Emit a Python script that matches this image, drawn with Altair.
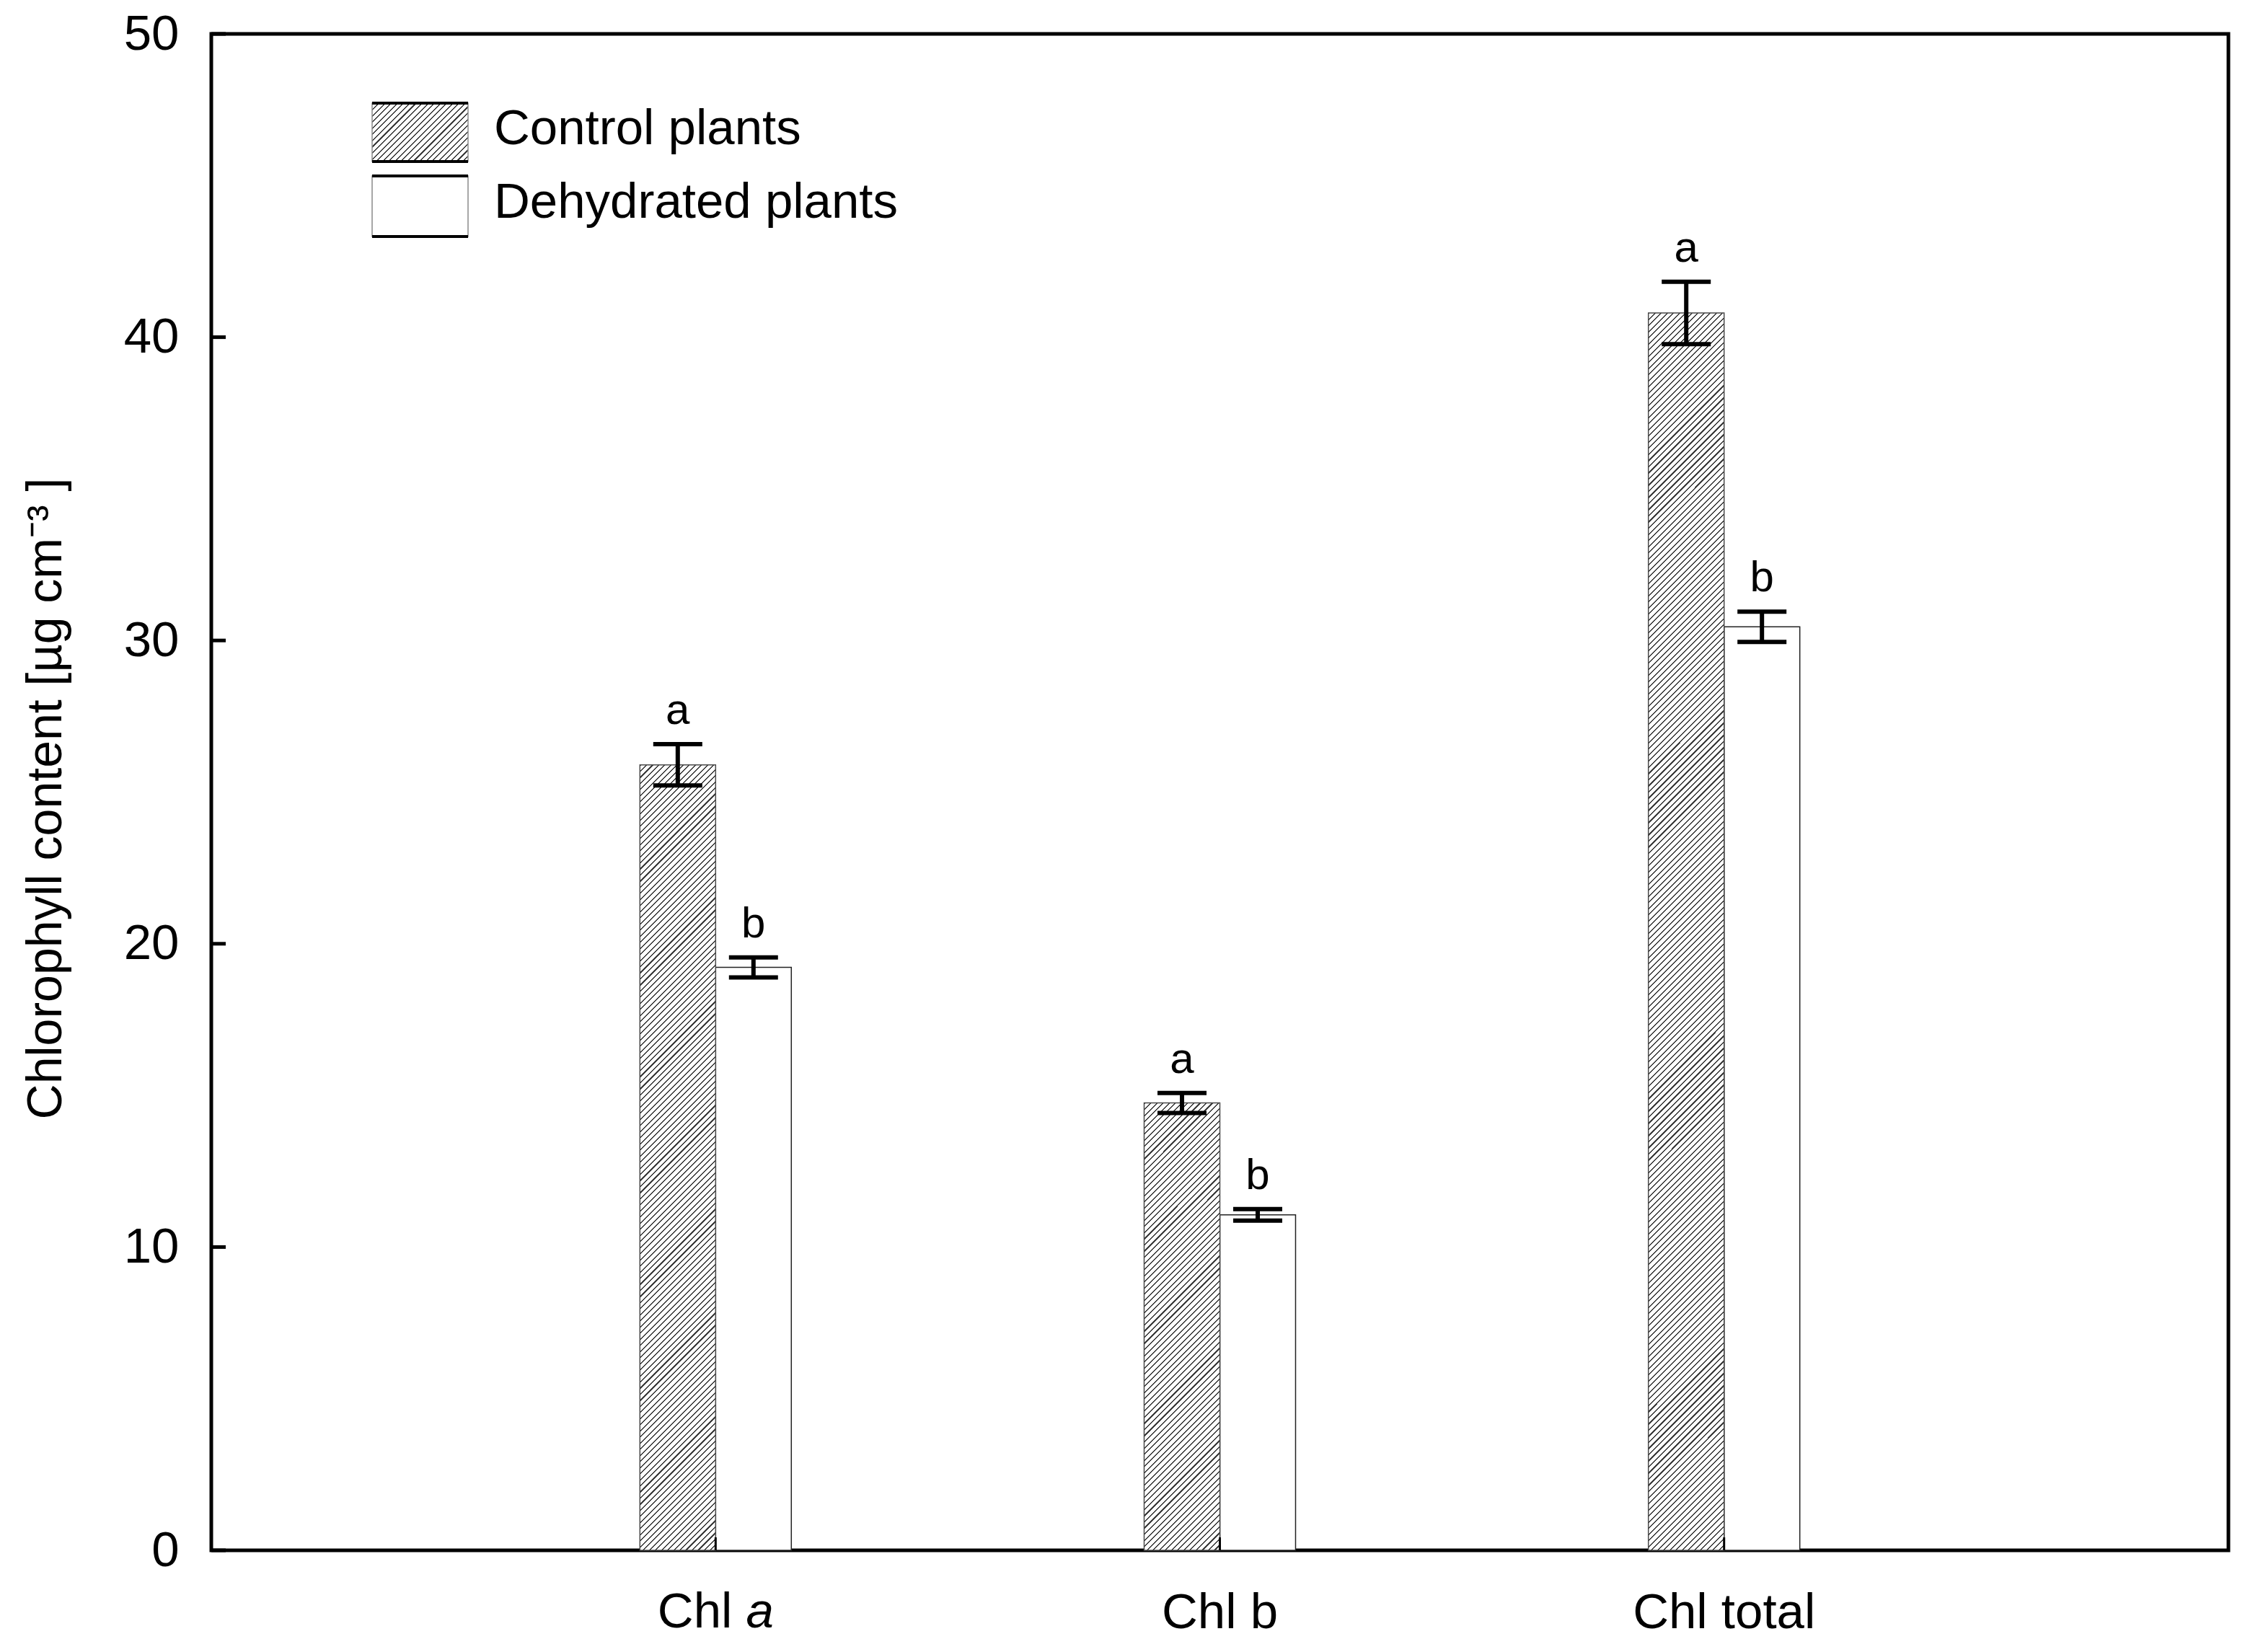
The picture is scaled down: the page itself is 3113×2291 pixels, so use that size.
import math
import altair as alt
import pandas as pd

# ---------------- data ----------------
categories = ["Chl a", "Chl b", "Chl total"]
groups = ["Control plants", "Dehydrated plants"]
control_mean = [25.9, 14.75, 40.8]
control_err = [0.68, 0.33, 1.03]
dehydrated_mean = [19.22, 11.06, 30.45]
dehydrated_err = [0.33, 0.19, 0.5]
control_letter = ["a", "a", "a"]
dehydrated_letter = ["b", "b", "b"]
y_ticks = [0, 10, 20, 30, 40, 50]

# ---------------- layout / style ----------------
W, H = 2797, 2103
Y_MAX = 50
PX_PER_UNIT = H / Y_MAX
BAR_W = 105
FONT = "Liberation Sans"
FS = 69

rows = []
for i, c in enumerate(categories):
    rows.append(dict(cat=c, grp=groups[0], mean=control_mean[i], err=control_err[i], letter=control_letter[i]))
    rows.append(dict(cat=c, grp=groups[1], mean=dehydrated_mean[i], err=dehydrated_err[i], letter=dehydrated_letter[i]))
df = pd.DataFrame(rows)
df["lo"] = df["mean"] - df["err"]
df["hi"] = df["mean"] + df["err"]


def hatch_fill(w, h, spacing=8.5, line=1.5, color="#3c3c3c"):
    s = (1 / w + 1 / h) / (1 / w ** 2 + 1 / h ** 2)
    x2, y2 = s / h, s / w
    n = max(1, round((w + h) / spacing))
    frac = line / (spacing / math.sqrt(2))
    stops = []
    for i in range(n):
        a = i / n
        b = min(1.0, (i + frac) / n)
        stops += [
            {"offset": a, "color": "white"},
            {"offset": a, "color": color},
            {"offset": b, "color": color},
            {"offset": b, "color": "white"},
        ]
    return {"gradient": "linear", "x1": 0, "y1": 0, "x2": x2, "y2": y2, "stops": stops}


x_scale = alt.Scale(domain=categories, paddingInner=0.6997, paddingOuter=0.85)
off_scale = alt.Scale(domain=groups, paddingInner=0, paddingOuter=0)
y_scale = alt.Scale(domain=[0, Y_MAX], nice=False, zero=True)

x_axis = alt.Axis(
    domain=False, ticks=False, tickSize=0, grid=False, title=None,
    labelFont=FONT, labelFontSize=FS, labelColor="black", labelPadding=52,
    labelBaseline="top", labelAngle=0, labelLimit=2000,
    labelExpr="datum.value == 'Chl a' ? '' : datum.value",
)
y_axis = alt.Axis(
    domain=False, ticks=False, tickSize=0, grid=False, values=y_ticks,
    labelFont=FONT, labelFontSize=FS, labelColor="black", labelPadding=45,
    labelFlush=False, labelOverlap=False, labelLimit=2000,
    title="Chlorophyll content [µg cm⁻³ ]",
    titleFont=FONT, titleFontSize=68, titleFontWeight="normal", titleColor="black",
    titleAngle=270, titleX=-229, titleY=1060, titleAlign="center", titleBaseline="middle",
    titleLimit=3000,
)


def X():
    return alt.X("cat:N", sort=categories, scale=x_scale, axis=x_axis, title=None)


def XO():
    return alt.XOffset("grp:N", sort=groups, scale=off_scale)


def Y(field):
    return alt.Y(field, scale=y_scale, axis=y_axis, title="Chlorophyll content [µg cm⁻³ ]")


base = alt.Chart(df)

dehyd_bars = base.transform_filter(alt.datum.grp == groups[1]).mark_bar(
    fill="white", stroke="#222222", strokeWidth=1.5
).encode(x=X(), xOffset=XO(), y=Y("mean:Q"))

control_layers = []
for i, c in enumerate(categories):
    fill = hatch_fill(BAR_W, control_mean[i] * PX_PER_UNIT)
    control_layers.append(
        base.transform_filter((alt.datum.grp == groups[0]) & (alt.datum.cat == c)).mark_bar(
            fill=fill, stroke="#4a4a4a", strokeWidth=1.5
        ).encode(x=X(), xOffset=XO(), y=Y("mean:Q"))
    )

err_rule = base.mark_rule(color="black", strokeWidth=6).encode(
    x=X(), xOffset=XO(), y=Y("lo:Q"), y2="hi:Q",
)
cap_lo = base.mark_tick(color="black", size=68, thickness=6, opacity=1).encode(
    x=X(), xOffset=XO(), y=Y("lo:Q")
)
cap_hi = base.mark_tick(color="black", size=68, thickness=6, opacity=1).encode(
    x=X(), xOffset=XO(), y=Y("hi:Q")
)
letters = base.mark_text(
    font=FONT, fontSize=60, color="black", baseline="alphabetic", align="center", dy=-28
).encode(x=X(), xOffset=XO(), y=Y("hi:Q"), text="letter:N")

# inward ticks
ytick_df = pd.DataFrame({"v": y_ticks})
y_tick_rules = alt.Chart(ytick_df).mark_rule(color="black", strokeWidth=5).encode(
    y=Y("v:Q"), x=alt.value(0), x2=alt.value(20)
)
xtick_df = pd.DataFrame({"cat": categories})
x_tick_rules = alt.Chart(xtick_df).mark_rule(color="black", strokeWidth=3).encode(
    x=X(), y=alt.value(H), y2=alt.value(H - 18)
)

# "Chl a" label with italic a
chla_df = pd.DataFrame({"cat": ["Chl a"]})
chla_1 = alt.Chart(chla_df).mark_text(
    text="Chl", font=FONT, fontSize=FS, color="black", align="left", baseline="top", dx=-80.5
).encode(x=X(), y=alt.value(H + 52))
chla_2 = alt.Chart(chla_df).mark_text(
    text="a", font=FONT, fontSize=FS, fontStyle="italic", color="black", align="left",
    baseline="top", dx=42.2
).encode(x=X(), y=alt.value(H + 52))

# legend
LX0, LX1 = 223, 356


def legend_entry(label, y0, y1, fill):
    one = pd.DataFrame({"label": [label]})
    ch = alt.Chart(one)
    rect = ch.mark_rect(fill=fill, stroke="#8a8a8a", strokeWidth=1.5).encode(
        x=alt.value(LX0), x2=alt.value(LX1), y=alt.value(y0), y2=alt.value(y1)
    )
    top = ch.mark_rule(color="black", strokeWidth=4).encode(
        x=alt.value(LX0), x2=alt.value(LX1), y=alt.value(y0)
    )
    bot = ch.mark_rule(color="black", strokeWidth=4).encode(
        x=alt.value(LX0), x2=alt.value(LX1), y=alt.value(y1)
    )
    txt = ch.mark_text(font=FONT, fontSize=FS, color="black", align="left", baseline="middle").encode(
        x=alt.value(392), y=alt.value((y0 + y1) / 2 - 5), text="label:N"
    )
    return [rect, top, bot, txt]


legend_layers = legend_entry(groups[0], 96, 177, hatch_fill(LX1 - LX0, 81)) + \
    legend_entry(groups[1], 197, 281, "white")

chart = alt.layer(
    dehyd_bars, *control_layers, err_rule, cap_lo, cap_hi, letters,
    y_tick_rules, x_tick_rules, chla_1, chla_2, *legend_layers,
).properties(
    width=W, height=H,
    autosize=alt.AutoSizeParams(type="none"),
    padding={"left": 285, "top": 39, "right": 15, "bottom": 133},
    background="white",
).configure_view(stroke="black", strokeWidth=5)

chart.save("out.html", embed_options={"renderer": "svg", "actions": False})
